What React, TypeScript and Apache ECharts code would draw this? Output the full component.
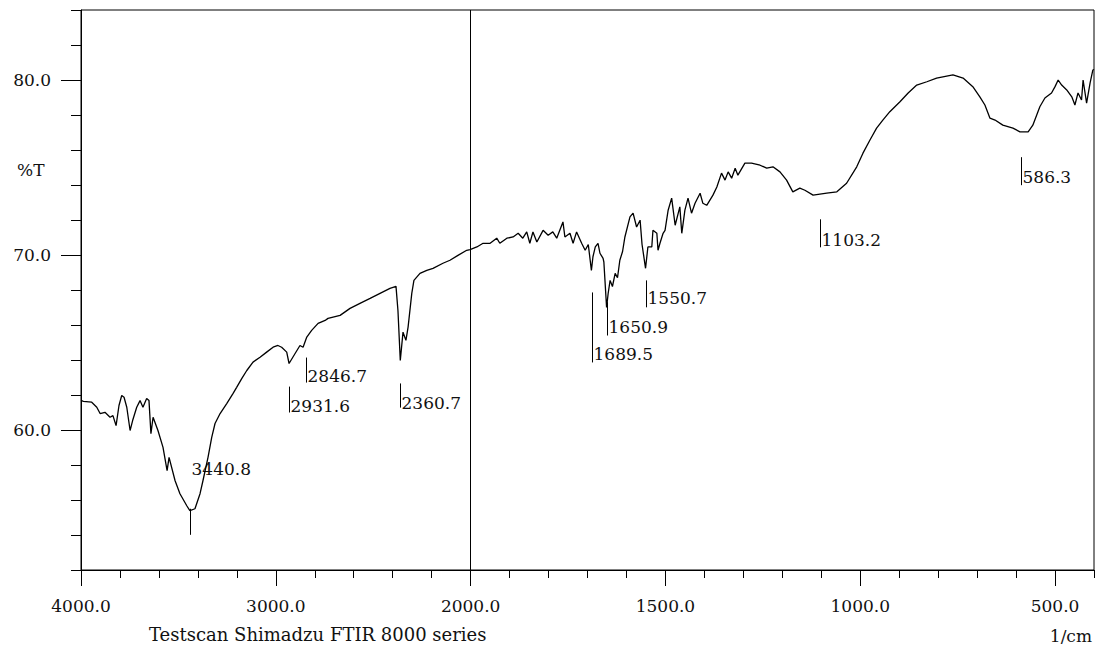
import React, { useEffect, useRef } from "react";
import * as echarts from "echarts";

// Spectrum (wavenumber in 1/cm, transmittance in %T)
const wavenumbers = [
  4000, 3988, 3945, 3919, 3902, 3877, 3851, 3836, 3820, 3805, 3791, 3779, 3765, 3748, 3735, 3714,
  3697, 3682, 3663, 3651, 3641, 3630, 3605, 3579, 3558, 3548, 3517, 3492, 3457, 3441, 3415, 3389,
  3374, 3348, 3329, 3312, 3286, 3252, 3220, 3201, 3175, 3149, 3117, 3081, 3047, 3014, 2989, 2970,
  2944, 2932, 2901, 2876, 2860, 2841, 2816, 2783, 2747, 2732, 2670, 2619, 2568, 2516, 2465, 2414,
  2383, 2373, 2361, 2347, 2332, 2321, 2302, 2291, 2260, 2225, 2193, 2142, 2106, 2065, 2020, 2003,
  1984, 1968, 1950, 1933, 1925, 1907, 1891, 1878, 1866, 1856, 1848, 1840, 1830, 1814, 1801, 1789,
  1779, 1763, 1758, 1745, 1737, 1728, 1715, 1706, 1698, 1690, 1686, 1680, 1673, 1668, 1660, 1658,
  1651, 1647, 1642, 1636, 1629, 1623, 1617, 1610, 1604, 1591, 1583, 1574, 1565, 1560, 1551, 1545,
  1535, 1532, 1522, 1519, 1514, 1506, 1501, 1493, 1484, 1475, 1463, 1458, 1450, 1442, 1433, 1424,
  1411, 1404, 1394, 1378, 1368, 1356, 1347, 1339, 1330, 1321, 1314, 1296, 1279, 1257, 1240, 1224,
  1206, 1189, 1173, 1155, 1142, 1121, 1086, 1060, 1035, 1009, 993, 975, 958, 942, 924, 898,
  877, 855, 829, 804, 762, 736, 711, 693, 680, 667, 654, 634, 608, 590, 569, 557,
  539, 526, 509, 500, 492, 483, 470, 457, 449, 441, 432, 428, 419, 410, 403, 400,
];
const transmittance = [
  61.7, 61.64, 61.59, 61.3, 60.94, 61.01, 60.73, 60.82, 60.25, 61.4, 61.97, 61.87, 61.3, 59.97, 60.54, 61.3,
  61.68, 61.3, 61.8, 61.68, 59.79, 60.73, 59.97, 59.01, 57.68, 58.44, 57.1, 56.36, 55.67, 55.39, 55.5, 56.36,
  57.1, 58.44, 59.58, 60.37, 60.94, 61.51, 62.08, 62.44, 62.94, 63.4, 63.88, 64.16, 64.45, 64.73, 64.83, 64.73,
  64.45, 63.8, 64.37, 64.83, 64.73, 65.31, 65.69, 66.09, 66.26, 66.38, 66.55, 66.95, 67.24, 67.52, 67.81, 68.09,
  68.21, 66.83, 63.97, 65.59, 65.12, 65.88, 67.81, 68.55, 68.95, 69.12, 69.24, 69.53, 69.7, 69.98, 70.27, 70.31,
  70.46, 70.67, 70.67, 70.96, 70.67, 70.96, 71.03, 71.24, 70.96, 71.32, 70.67, 71.32, 70.74, 71.41, 71.13, 71.32,
  70.96, 71.89, 71.03, 71.24, 70.67, 71.32, 70.67, 70.27, 70.6, 69.12, 69.9, 70.46, 70.67, 70.1, 69.81, 69.6,
  67.0, 67.8, 68.55, 68.2, 68.95, 68.7, 69.7, 70.2, 71.03, 72.18, 72.39, 71.6, 71.99, 70.6, 69.24, 70.46,
  70.46, 71.41, 71.24, 70.27, 70.67, 71.24, 71.41, 72.56, 73.25, 71.7, 72.75, 71.24, 72.56, 73.25, 72.39, 72.96,
  73.53, 72.96, 72.84, 73.42, 73.89, 74.68, 74.28, 74.75, 74.39, 74.96, 74.56, 75.25, 75.25, 75.13, 74.96, 75.04,
  74.75, 74.28, 73.61, 73.82, 73.7, 73.42, 73.53, 73.61, 74.1, 75.04, 75.82, 76.57, 77.25, 77.71, 78.19, 78.76,
  79.26, 79.71, 79.9, 80.11, 80.29, 80.11, 79.62, 79.04, 78.57, 77.82, 77.71, 77.42, 77.25, 77.04, 77.04, 77.42,
  78.47, 78.97, 79.26, 79.62, 80.0, 79.71, 79.43, 79.04, 78.57, 79.26, 78.86, 80.0, 78.68, 79.83, 80.57, 80.6,
];

// Peak annotations
const peakWavenumbers = [3440.8, 2931.6, 2846.7, 2360.7, 1689.5, 1650.9, 1550.7, 1103.2, 586.3];
const peakLabels = ["3440.8", "2931.6", "2846.7", "2360.7", "1689.5", "1650.9", "1550.7", "1103.2", "586.3"];
const peakMarkTop = [55.5, 62.48, 64.14, 62.66, 67.86, 67.3, 68.55, 72.04, 75.59];
const peakMarkBottom = [54.01, 61.0, 62.71, 61.28, 63.86, 65.4, 67.01, 70.44, 73.99];
const peakLabelLevel = [57.79, 61.4, 63.11, 61.57, 64.37, 65.86, 67.52, 70.84, 74.45];

// Axis ticks (wavenumbers / %T)
const xLabelWavenumbers = [4000, 3000, 2000, 1500, 1000, 500];
const xMinorWavenumbers = [
  4000, 3800, 3600, 3400, 3200, 3000, 2800, 2600, 2400, 2200, 2000,
  1900, 1800, 1700, 1600, 1500, 1400, 1300, 1200, 1100, 1000, 900, 800, 700, 600, 500, 400,
];
const yLabelValues = [60, 70, 80];
const yMinorValues = [52, 54, 56, 58, 60, 62, 64, 66, 68, 70, 72, 74, 76, 78, 80, 82, 84];

// Shimadzu-style x scale: 4000-2000 compressed, 2000-400 expanded x2
const toU = (wn: number) => (wn >= 2000 ? 4000 - wn : 2000 + (2000 - wn) * 2);
const fromU = (u: number) => (u <= 2000 ? 4000 - u : 2000 - (u - 2000) / 2);

const FONT = "DejaVu Serif";
const TXT = "#111";

export default function App() {
  const ref = useRef<HTMLDivElement>(null);
  useEffect(() => {
    if (!ref.current) return;
    const chart = echarts.init(ref.current, undefined, { renderer: "svg" });
    const lineData = wavenumbers.map((w, i) => [toU(w), transmittance[i]]);
    const peakData = peakWavenumbers.map((w, i) => [toU(w), peakMarkTop[i], peakMarkBottom[i], peakLabelLevel[i]]);
    const xAxisBase = { type: "value", min: 0, max: 5200, splitLine: { show: false } };
    const yAxisBase = { type: "value", min: 52, max: 84, splitLine: { show: false } };
    chart.setOption({
      animation: false,
      backgroundColor: "#fff",
      grid: { left: 81, right: 6, top: 10, bottom: 81, show: true, borderColor: "#000", borderWidth: 1, backgroundColor: "transparent" },
      xAxis: [
        {
          ...xAxisBase,
          position: "bottom",
          axisLine: { show: true, lineStyle: { color: "#000", width: 1 } },
          axisTick: { show: true, length: 8, customValues: xMinorWavenumbers.map(toU), lineStyle: { color: "#000", width: 1 } },
          axisLabel: {
            show: true,
            customValues: xLabelWavenumbers.map(toU),
            formatter: (v: number) => fromU(v).toFixed(1),
            color: TXT,
            fontFamily: FONT,
            fontSize: 17,
            margin: 27,
          },
        },
        {
          ...xAxisBase,
          position: "bottom",
          axisLine: { show: false },
          axisTick: { show: true, length: 16, customValues: xLabelWavenumbers.map(toU), lineStyle: { color: "#000", width: 1 } },
          axisLabel: { show: false },
        },
      ],
      yAxis: [
        {
          ...yAxisBase,
          position: "left",
          axisLine: { show: true, lineStyle: { color: "#000", width: 1 } },
          axisTick: { show: true, length: 10, customValues: yMinorValues, lineStyle: { color: "#000", width: 1 } },
          axisLabel: {
            show: true,
            customValues: yLabelValues,
            formatter: (v: number) => v.toFixed(1),
            color: TXT,
            fontFamily: FONT,
            fontSize: 17,
            margin: 30,
          },
        },
        {
          ...yAxisBase,
          position: "left",
          axisLine: { show: false },
          axisTick: { show: true, length: 20, customValues: yLabelValues, lineStyle: { color: "#000", width: 1 } },
          axisLabel: { show: false },
        },
      ],
      graphic: [
        { type: "text", left: 17, top: 161, style: { text: "%T", fill: TXT, font: `17px "${FONT}"` } },
        { type: "text", left: 149, top: 625, style: { text: "Testscan Shimadzu FTIR 8000 series", fill: TXT, font: `18px "${FONT}"` } },
        { type: "text", right: 8, top: 627, style: { text: "1/cm", fill: TXT, font: `17px "${FONT}"` } },
      ],
      series: [
        {
          type: "line",
          data: lineData,
          showSymbol: false,
          symbol: "none",
          xAxisIndex: 0,
          yAxisIndex: 0,
          lineStyle: { color: "#000", width: 1.3 },
          silent: true,
          markLine: {
            silent: true,
            symbol: ["none", "none"],
            label: { show: false },
            lineStyle: { color: "#000", width: 1, type: "solid" },
            data: [{ xAxis: toU(2000) }],
          },
        },
        {
          type: "custom",
          xAxisIndex: 0,
          yAxisIndex: 0,
          silent: true,
          clip: false,
          data: peakData,
          encode: { x: 0, y: 1 },
          renderItem: (params: any, api: any) => {
            const u = api.value(0);
            const p1 = api.coord([u, api.value(1)]);
            const p2 = api.coord([u, api.value(2)]);
            const pl = api.coord([u, api.value(3)]);
            const x = Math.round(p1[0]) + 0.5;
            return {
              type: "group",
              children: [
                { type: "line", shape: { x1: x, y1: p1[1], x2: x, y2: p2[1] }, style: { stroke: "#000", lineWidth: 1 } },
                {
                  type: "text",
                  style: {
                    text: peakLabels[params.dataIndex],
                    x: x + 1,
                    y: pl[1],
                    fill: TXT,
                    font: `17px "${FONT}"`,
                    align: "left",
                    verticalAlign: "middle",
                    textAlign: "left",
                    textVerticalAlign: "middle",
                  },
                },
              ],
            };
          },
        },
      ],
    });
    return () => chart.dispose();
  }, []);
  return <div ref={ref} style={{ position: "absolute", left: 0, top: 0, width: 1100, height: 651 }} />;
}
